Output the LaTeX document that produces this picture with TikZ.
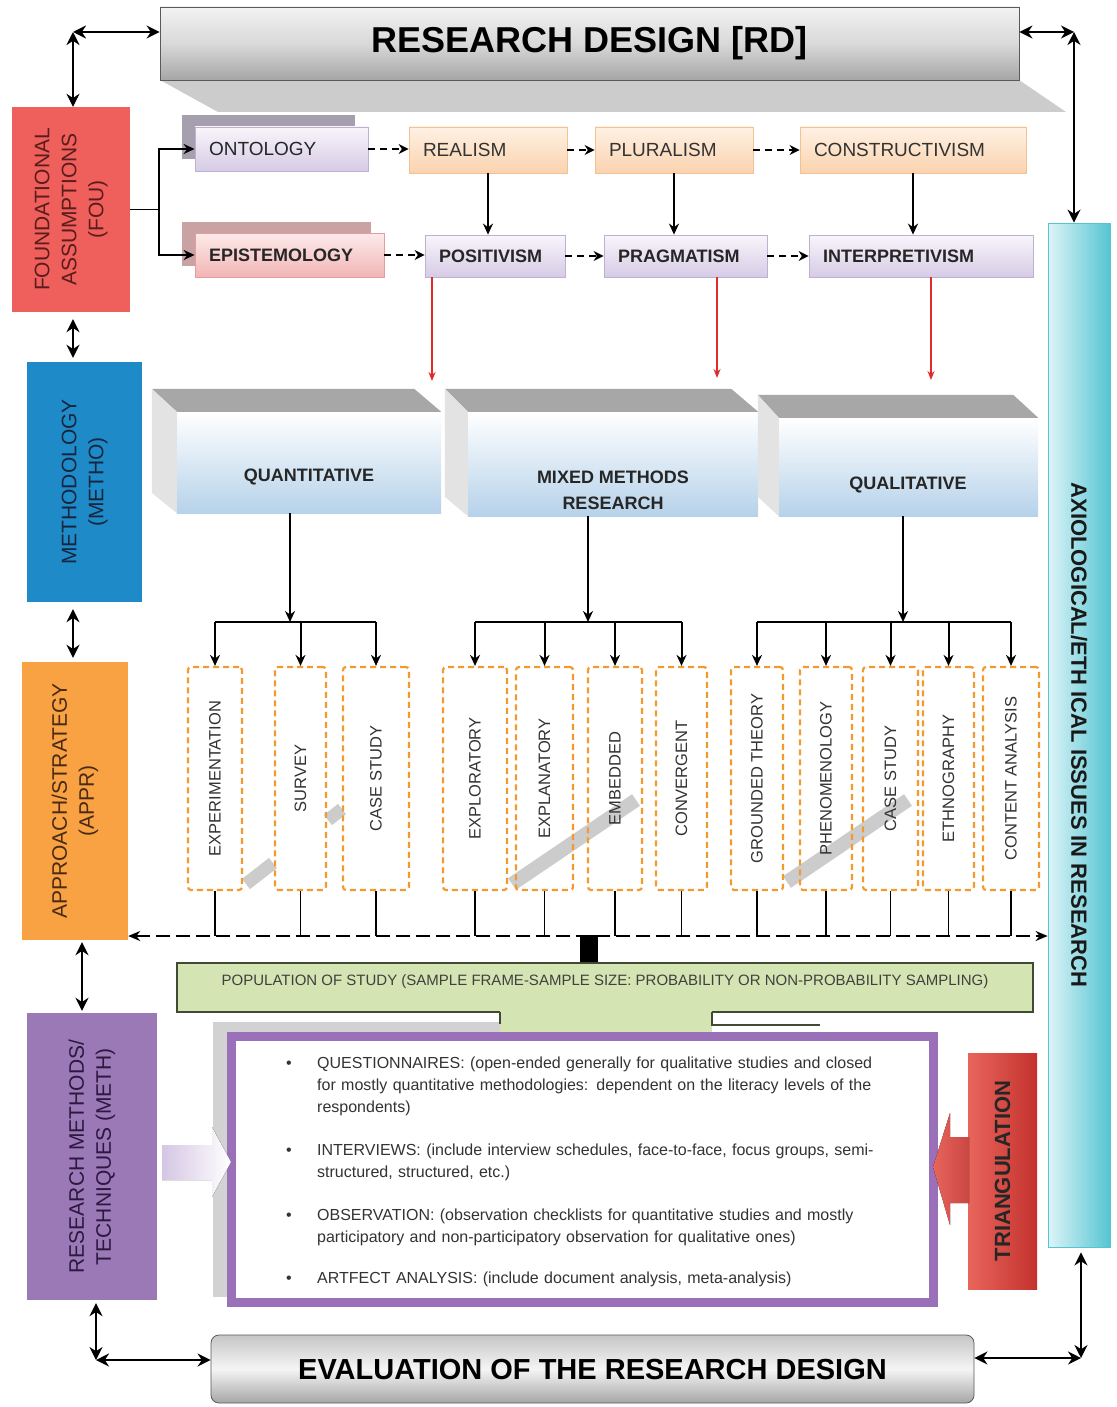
\documentclass[tikz,border=0pt]{standalone}
\usepackage{fontspec}
\setmainfont{Liberation Sans}
\usepackage{graphicx}
\usetikzlibrary{positioning}
\usetikzlibrary{calc}
\usetikzlibrary{arrows.meta}
\usetikzlibrary{shadows}

\definecolor{fouRed}{HTML}{EF5F5C}
\definecolor{fouText}{HTML}{5A1C1C}
\definecolor{methoBlue}{HTML}{1F8AC8}
\definecolor{methoText}{HTML}{16263F}
\definecolor{apprOrange}{HTML}{F8A243}
\definecolor{apprText}{HTML}{4A2A12}
\definecolor{methPurple}{HTML}{9B79B6}
\definecolor{methText}{HTML}{2C1840}
\definecolor{axioLight}{HTML}{DDF4F8}
\definecolor{axioDark}{HTML}{55C5D2}
\definecolor{peachTop}{HTML}{FFF1E4}
\definecolor{peachBot}{HTML}{FAD3AE}
\definecolor{peachLine}{HTML}{F4C193}
\definecolor{lavTop}{HTML}{F8F5FB}
\definecolor{lavBot}{HTML}{D6CBE5}
\definecolor{lavLine}{HTML}{BFB0D3}
\definecolor{pinkTop}{HTML}{FDEAEA}
\definecolor{pinkBot}{HTML}{F2B5B5}
\definecolor{pinkLine}{HTML}{E59C9C}
\definecolor{ontoShadow}{HTML}{A69FAE}
\definecolor{episShadow}{HTML}{C9A3A3}
\definecolor{faceBlue}{HTML}{B6D2EA}
\definecolor{faceTop}{HTML}{A7A7A7}
\definecolor{faceSide}{HTML}{E3E3E3}
\definecolor{dashOrange}{HTML}{F39A2E}
\definecolor{popGreen}{HTML}{D4E4B3}
\definecolor{popLine}{HTML}{3F4B33}
\definecolor{boxPurple}{HTML}{9A70B8}
\definecolor{triRed}{HTML}{C4322E}
\definecolor{triLight}{HTML}{E8655C}
\definecolor{arrRed}{HTML}{E02B2B}
\definecolor{arrLav}{HTML}{D5C6E4}

\begin{document}
\begin{tikzpicture}[x=1pt, y=-1pt,
  dbl/.style={{Stealth[length=13pt,width=13pt]}-{Stealth[length=13pt,width=13pt]}, line width=2.8pt},
  dasharr/.style={-{Stealth[length=10pt,width=10pt]}, line width=2.4pt, dash pattern=on 7pt off 5pt},
  downarr/.style={-{Stealth[length=11pt,width=10pt]}, line width=2pt},
  redarr/.style={-{Stealth[length=9pt,width=7pt]}, line width=1.8pt, arrRed},
  sidebox/.style={inner sep=0pt, font=\fontsize{21}{27}\selectfont},
  peachbox/.style={top color=peachTop, bottom color=peachBot, draw=peachLine, line width=0.8pt,
    inner xsep=14pt, inner ysep=0pt, minimum height=46pt, align=left,
    font=\fontsize{19}{22}\selectfont, text=black!80},
  lavbox/.style={top color=lavTop, bottom color=lavBot, draw=lavLine, line width=0.8pt,
    inner xsep=14pt, inner ysep=0pt, minimum height=42pt, align=left,
    font=\fontsize{18}{22}\selectfont\bfseries, text=black!85},
  frontface/.style={top color=white, bottom color=faceBlue, inner sep=0pt},
  facetext/.style={font=\fontsize{18}{26}\selectfont\bfseries, text=black!85, align=center},
  apprbox/.style={draw=dashOrange, line width=2.2pt, dash pattern=on 6pt off 4pt, rounded corners=3pt,
    minimum height=223pt, inner sep=0pt, font=\fontsize{16.5}{19}\selectfont, text=black!80},
  itemtext/.style={font=\fontsize{16}{22}\selectfont, text=black!80, align=left, text width=620pt, inner sep=0pt},
  banner/.style={draw=gray!70!black, line width=0.8pt, inner sep=0pt, font=\bfseries, text=black}
]
\useasboundingbox (0,0) rectangle (1116,1407);
\fill[white] (0,0) rectangle (1116,1407);

% top banner
\fill[gray!40] (160,80) -- (1019,80) -- (1066,112) -- (218,112) -- cycle;
\node[banner, top color=gray!10, bottom color=gray!70, middle color=gray!30,
  minimum width=859pt, minimum height=73pt, font=\fontsize{36}{40}\selectfont\bfseries] (rd) at (589.5,43.5) {RESEARCH DESIGN [RD]};

% left column
\node[sidebox, fill=fouRed, text=fouText, minimum width=118pt, minimum height=205pt] (fou) at (71,209.5)
  {\rotatebox{90}{\begin{tabular}{@{}c@{}}FOUNDATIONAL\\ASSUMPTIONS\\(FOU)\end{tabular}}\hspace{8pt}};
\node[sidebox, fill=methoBlue, text=methoText, minimum width=115pt, minimum height=240pt] (metho) at (84.5,482)
  {\rotatebox{90}{\begin{tabular}{@{}c@{}}METHODOLOGY\\(METHO)\end{tabular}}\hspace{30pt}};
\node[sidebox, fill=apprOrange, text=apprText, minimum width=106pt, minimum height=278pt] (appr) at (75,801)
  {\rotatebox{90}{\begin{tabular}{@{}c@{}}APPROACH/STRATEGY\\(APPR)\end{tabular}}\hspace{28pt}};
\node[sidebox, fill=methPurple, text=methText, minimum width=130pt, minimum height=287pt] (meth) at (92,1156.5)
  {\rotatebox{90}{\begin{tabular}{@{}c@{}}RESEARCH METHODS/\\TECHNIQUES (METH)\end{tabular}}\hspace{48pt}};

% right column
\node[left color=axioLight, right color=axioDark, draw=axioDark, line width=0.8pt, inner sep=0pt,
  minimum width=62pt, minimum height=1024pt, font=\fontsize{22}{26}\selectfont\bfseries, text=black!90] (axio) at (1079,735)
  {\rotatebox{-90}{AXIOLOGICAL/ETH ICAL ISSUES IN RESEARCH}};

% ontology / epistemology rows
\node[lavbox, font=\fontsize{19}{22}\selectfont, text width=145pt, minimum height=44pt,
  drop shadow={shadow xshift=-13pt, shadow yshift=12pt, fill=ontoShadow, opacity=1}] (onto) at (281.5,149) {ONTOLOGY};
\node[lavbox, top color=pinkTop, bottom color=pinkBot, draw=pinkLine, text width=161pt, minimum height=44pt,
  drop shadow={shadow xshift=-13pt, shadow yshift=11pt, fill=episShadow, opacity=1}] (epis) at (289.5,255) {EPISTEMOLOGY};

\foreach \n/\x/\w/\t in {real/488/130/REALISM, plur/674/130/PLURALISM, cons/913/198/CONSTRUCTIVISM}
  \node[peachbox, text width=\w pt] (\n) at (\x,150) {\t};
\foreach \n/\x/\w/\t in {posi/495/112/POSITIVISM, prag/685.5/135/PRAGMATISM, intp/921/196/INTERPRETIVISM}
  \node[lavbox, text width=\w pt] (\n) at (\x,256) {\t};

\draw[line width=1.6pt] (fou.east) -- ++(29,0) coordinate (fk);
\draw[downarr] (fk) |- (onto.west);
\draw[downarr] (fk) |- (epis.west);

\draw[dasharr] (onto.east) -- (real.west |- onto.east);
\draw[dasharr] (real.east) -- (plur.west |- real.east);
\draw[dasharr] (plur.east) -- (cons.west |- plur.east);
\draw[dasharr] (epis.east) -- (posi.west |- epis.east);
\draw[dasharr] (posi.east) -- (prag.west |- posi.east);
\draw[dasharr] (prag.east) -- (intp.west |- prag.east);

\draw[downarr] (real.south) -- (real.south |- posi.north);
\draw[downarr] (plur.south) -- (plur.south |- prag.north);
\draw[downarr] (cons.south) -- (cons.south |- intp.north);

% methodology boxes
\node[frontface, minimum width=264pt, minimum height=101pt] (quant) at (309,462.5) {};
\fill[faceTop] (quant.north west) -- ++(-25,-23) -- ($(quant.north east)+(-27,-23)$) -- (quant.north east) -- cycle;
\fill[faceSide] (quant.north west) -- ++(-25,-23) -- ++(0,104) -- (quant.south west) -- cycle;
\node[frontface, minimum width=290pt, minimum height=104pt] (mixed) at (613,464) {};
\fill[faceTop] (mixed.north west) -- ++(-23,-23) -- ($(mixed.north east)+(-27,-23)$) -- (mixed.north east) -- cycle;
\fill[faceSide] (mixed.north west) -- ++(-23,-23) -- ++(0,108) -- (mixed.south west) -- cycle;
\node[frontface, minimum width=259pt, minimum height=98pt] (qual) at (908.5,467) {};
\fill[faceTop] (qual.north west) -- ++(-21,-23) -- ($(qual.north east)+(-25,-23)$) -- (qual.north east) -- cycle;
\fill[faceSide] (qual.north west) -- ++(-21,-23) -- ++(0,102) -- (qual.south west) -- cycle;

\node[facetext] (quant-t) at (309,477) {QUANTITATIVE};
\node[facetext] (mixed-t) at (613,490) {MIXED METHODS\\RESEARCH};
\node[facetext] (qual-t) at (908,485) {QUALITATIVE};

\coordinate (r1) at (432,381);
\coordinate (r2) at (717,378);
\coordinate (r3) at (931,380);
\draw[redarr] (posi.south -| r1) -- (r1);
\draw[redarr] (prag.south -| r2) -- (r2);
\draw[redarr] (intp.south -| r3) -- (r3);

% shadow streaks
\draw[gray!40, line width=13pt] (246,884) -- (273,863);
\draw[gray!40, line width=13pt] (328,820) -- (342,809);
\draw[gray!40, line width=14pt] (512,884) -- (636,800);
\draw[gray!40, line width=14pt] (787,882) -- (908,800);

% approach boxes
\foreach \n/\x/\w/\t in {exp/215/54/EXPERIMENTATION, sur/300.5/51/SURVEY, cs1/376/66/CASE STUDY,
    explo/475/64/EXPLORATORY, expla/544.5/57/EXPLANATORY, emb/615/54/EMBEDDED, conv/681.5/51/CONVERGENT,
    gt/757/52/GROUNDED THEORY, phen/826/52/PHENOMENOLOGY, cs2/890.5/55/CASE STUDY,
    eth/948.5/51/ETHNOGRAPHY, ca/1011/56/CONTENT ANALYSIS}
  \node[apprbox, minimum width=\w pt] (\n) at (\x,778.5) {\rotatebox{90}{\t}};

\coordinate (qnsplit) at (290,622);
\coordinate (mxsplit) at (588,622);
\coordinate (qlsplit) at (903,622);
\draw[downarr] (quant.south -| qnsplit) -- (qnsplit);
\draw[downarr] (mixed.south -| mxsplit) -- (mxsplit);
\draw[downarr] (qual.south -| qlsplit) -- (qlsplit);
\draw[line width=2pt] (exp.north |- qnsplit) -- (cs1.north |- qnsplit);
\draw[line width=2pt] (explo.north |- mxsplit) -- (conv.north |- mxsplit);
\draw[line width=2pt] (gt.north |- qlsplit) -- (ca.north |- qlsplit);
\foreach \n in {exp,sur,cs1} \draw[downarr] (\n.north |- qnsplit) -- (\n.north);
\foreach \n in {explo,expla,emb,conv} \draw[downarr] (\n.north |- mxsplit) -- (\n.north);
\foreach \n in {gt,phen,cs2,eth,ca} \draw[downarr] (\n.north |- qlsplit) -- (\n.north);

% dashed link line
\coordinate (dl) at (0,936);
\foreach \n in {exp,sur,cs1,explo,expla,emb,conv,gt,phen,cs2,eth,ca}
  \draw[line width=1.3pt] (\n.south) -- (\n.south |- dl);
\draw[{Stealth[length=12pt,width=10pt]}-{Stealth[length=12pt,width=10pt]}, line width=2.4pt,
  dash pattern=on 14pt off 6pt] (appr.east |- dl) -- (axio.west |- dl);

% population
\node[fill=popGreen, draw=popLine, line width=1.6pt, minimum width=856pt, minimum height=49pt, inner sep=0pt] (pop) at (605,987.5) {};
\node[font=\fontsize{15}{18}\selectfont, text=black!75, inner sep=0pt] (pop-t) at (605,982)
  {POPULATION OF STUDY (SAMPLE FRAME-SAMPLE SIZE: PROBABILITY OR NON-PROBABILITY SAMPLING)};
\coordinate (popin) at (589,935);
\draw[line width=18pt] (popin) -- (popin |- pop.north);

% methods list
\fill[gray!35] (213,1022) rectangle (500,1034);
\fill[gray!35] (213,1022) rectangle (228,1297);
\fill[popGreen] (500,1010) rectangle (712,1034);
\draw[popLine, line width=1.4pt] (500,1012) -- (500,1024);
\draw[popLine, line width=1.4pt] (712,1012) -- (712,1025) -- (820,1025);
\node[draw=boxPurple, fill=white, line width=9pt, minimum width=702pt, minimum height=266pt, inner sep=0pt] (purp) at (582.5,1169.5) {};

\foreach \y [count=\i] in {1068,1155,1220,1283}
  \node[font=\fontsize{16}{22}\selectfont, text=black!80, anchor=base, inner sep=0pt] (b\i) at (289,\y) {\textbullet};
\node[itemtext, anchor=base west] (q1) at (317,1068)
  {QUESTIONNAIRES: (open-ended generally for qualitative studies and closed\\for mostly quantitative methodologies: dependent on the literacy levels of the\\respondents)};
\node[itemtext, anchor=base west] (q2) at (317,1155)
  {INTERVIEWS: (include interview schedules, face-to-face, focus groups, semi-\\structured, structured, etc.)};
\node[itemtext, anchor=base west] (q3) at (317,1220)
  {OBSERVATION: (observation checklists for quantitative studies and mostly\\participatory and non-participatory observation for qualitative ones)};
\node[itemtext, anchor=base west] (q4) at (317,1283)
  {ARTFECT ANALYSIS: (include document analysis, meta-analysis)};

\fill[left color=arrLav, right color=white] (162,1145) -- (212,1145) -- (212,1127) -- (231,1162)
  -- (212,1197) -- (212,1180) -- (162,1180) -- cycle;

% triangulation
\node[left color=triLight, right color=triRed, inner sep=0pt, minimum width=69pt, minimum height=236pt,
  font=\fontsize{22}{26}\selectfont\bfseries, text=black!85] (tri) at (1002.5,1171)
  {\rotatebox{90}{TRIANGULATION}\hspace{32pt}};
\fill[left color=triLight, right color=triRed!90] (969,1137) -- (950,1137) -- (950,1113) -- (933,1167)
  -- (950,1225) -- (950,1203) -- (969,1203) -- cycle;

% evaluation banner
\node[banner, rounded corners=8pt, top color=gray!45, bottom color=gray!70, middle color=gray!8,
  minimum width=763pt, minimum height=68pt, font=\fontsize{29}{34}\selectfont\bfseries] (eval) at (592.5,1369)
  {EVALUATION OF THE RESEARCH DESIGN};

% outer links
\coordinate (tl) at (73,32);
\coordinate (tr) at (1074,32);
\coordinate (bl) at (96,1360);
\coordinate (br) at (1081,1358);
\draw[dbl] (tl) -- (rd.west |- tl);
\draw[dbl] (tl) -- (fou.north -| tl);
\draw[dbl] (rd.east |- tr) -- (tr);
\draw[dbl] (tr) -- (axio.north -| tr);
\draw[dbl, shorten <=7pt, shorten >=4pt] (fou.south -| tl) -- (metho.north -| tl);
\draw[dbl, shorten <=7pt, shorten >=4pt] (metho.south -| tl) -- (appr.north -| tl);
\draw[dbl, shorten <=2pt, shorten >=2pt] (appr.south -| 82,0) -- (meth.north -| 82,0);
\draw[dbl, shorten <=3pt] (meth.south -| bl) -- (bl);
\draw[dbl] (bl) -- (eval.west |- bl);
\draw[dbl, shorten <=5pt] (axio.south -| br) -- (br);
\draw[dbl] (eval.east |- br) -- (br);

\end{tikzpicture}
\end{document}
